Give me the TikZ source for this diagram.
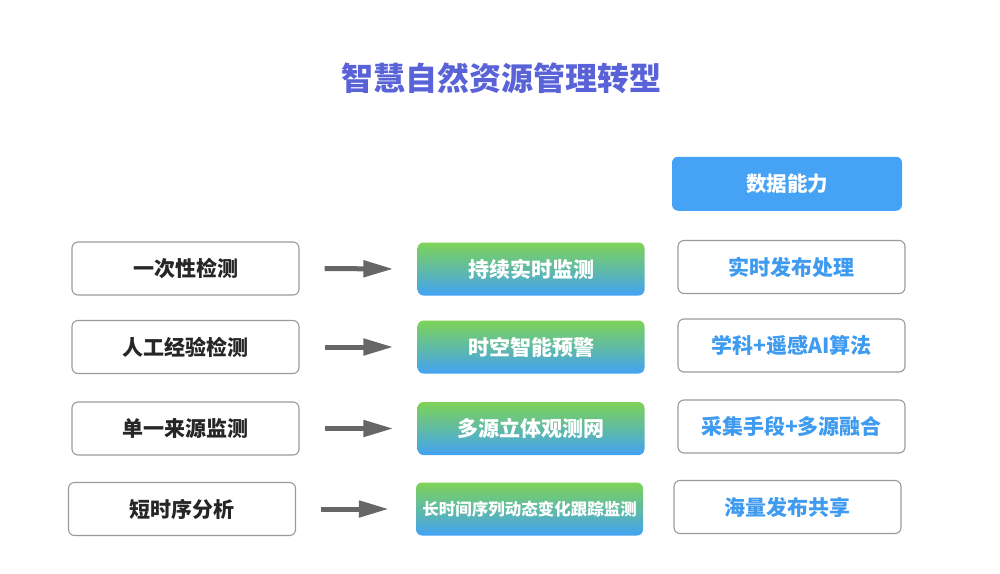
\documentclass[tikz,border=0pt]{standalone}
\usepackage{fontspec}
\setmainfont{Noto Sans CJK SC}
\usetikzlibrary{arrows.meta,positioning}

\definecolor{titleblue}{HTML}{5A62D8}
\definecolor{capblue}{HTML}{45A2F5}
\definecolor{textblue}{HTML}{3F9BF0}
\definecolor{topgreen}{HTML}{7DD356}
\definecolor{botblue}{HTML}{43A2F3}
\definecolor{edgegray}{HTML}{9A9A9A}
\definecolor{arrowgray}{HTML}{666666}

\tikzset{
  oldbox/.style={draw=edgegray, line width=1.1pt, rounded corners=6pt, fill=white,
    minimum width=227pt, minimum height=53pt, inner sep=0pt,
    font=\fontsize{21}{25}\selectfont\bfseries, text=black!85},
  newbox/.style={rounded corners=6pt, top color=topgreen, bottom color=botblue,
    minimum width=227pt, minimum height=53pt, inner sep=0pt,
    font=\fontsize{21}{25}\selectfont\bfseries, text=white},
  databox/.style={oldbox, text=textblue},
  capbox/.style={rounded corners=6pt, fill=capblue, minimum width=230pt,
    minimum height=54pt, inner sep=0pt,
    font=\fontsize{20.5}{25}\selectfont\bfseries, text=white},
  turn/.style={draw=arrowgray, fill=arrowgray, line width=5pt,
    -{Triangle[length=30pt,width=16pt]}, shorten <=25pt, shorten >=24pt}
}

\begin{document}
\begin{tikzpicture}[x=1pt, y=-1pt]
  \useasboundingbox (0,0) rectangle (1000,573);

  \node[font=\fontsize{32}{38}\selectfont\bfseries, text=titleblue] (title) at (501,78) {智慧自然资源管理转型};

  % old way
  \node[oldbox] (l1) at (185.5,268.5) {一次性检测};
  \node[oldbox] (l2) at (185.5,347) {人工经验检测};
  \node[oldbox] (l3) at (185.5,428.5) {单一来源监测};
  \node[oldbox] (l4) at (182,509) {短时序分析};

  % new way
  \node[newbox] (m1) at (531,269) {持续实时监测};
  \node[newbox] (m2) at (531,347) {时空智能预警};
  \node[newbox] (m3) at (531,428.5) {多源立体观测网};
  \node[newbox, font=\fontsize{16.5}{20}\selectfont\bfseries] (m4) at (529.5,509) {长时间序列动态变化跟踪监测};

  % data
  \node[databox] (r1) at (791.5,267) {实时发布处理};
  \node[databox] (r2) at (791.5,345.5) {学科+遥感AI算法};
  \node[databox] (r3) at (791.5,426.5) {采集手段+多源融合};
  \node[databox] (r4) at (787.5,507) {海量发布共享};
  \node[capbox] (cap) [above=29pt of r1, xshift=-4.5pt] {数据能力};

  \draw[turn] (l1.east) -- (m1.west);
  \draw[turn] (l2.east) -- (m2.west);
  \draw[turn] (l3.east) -- (m3.west);
  \draw[turn, shorten >=27pt] (l4.east) -- (m4.west);
\end{tikzpicture}
\end{document}
